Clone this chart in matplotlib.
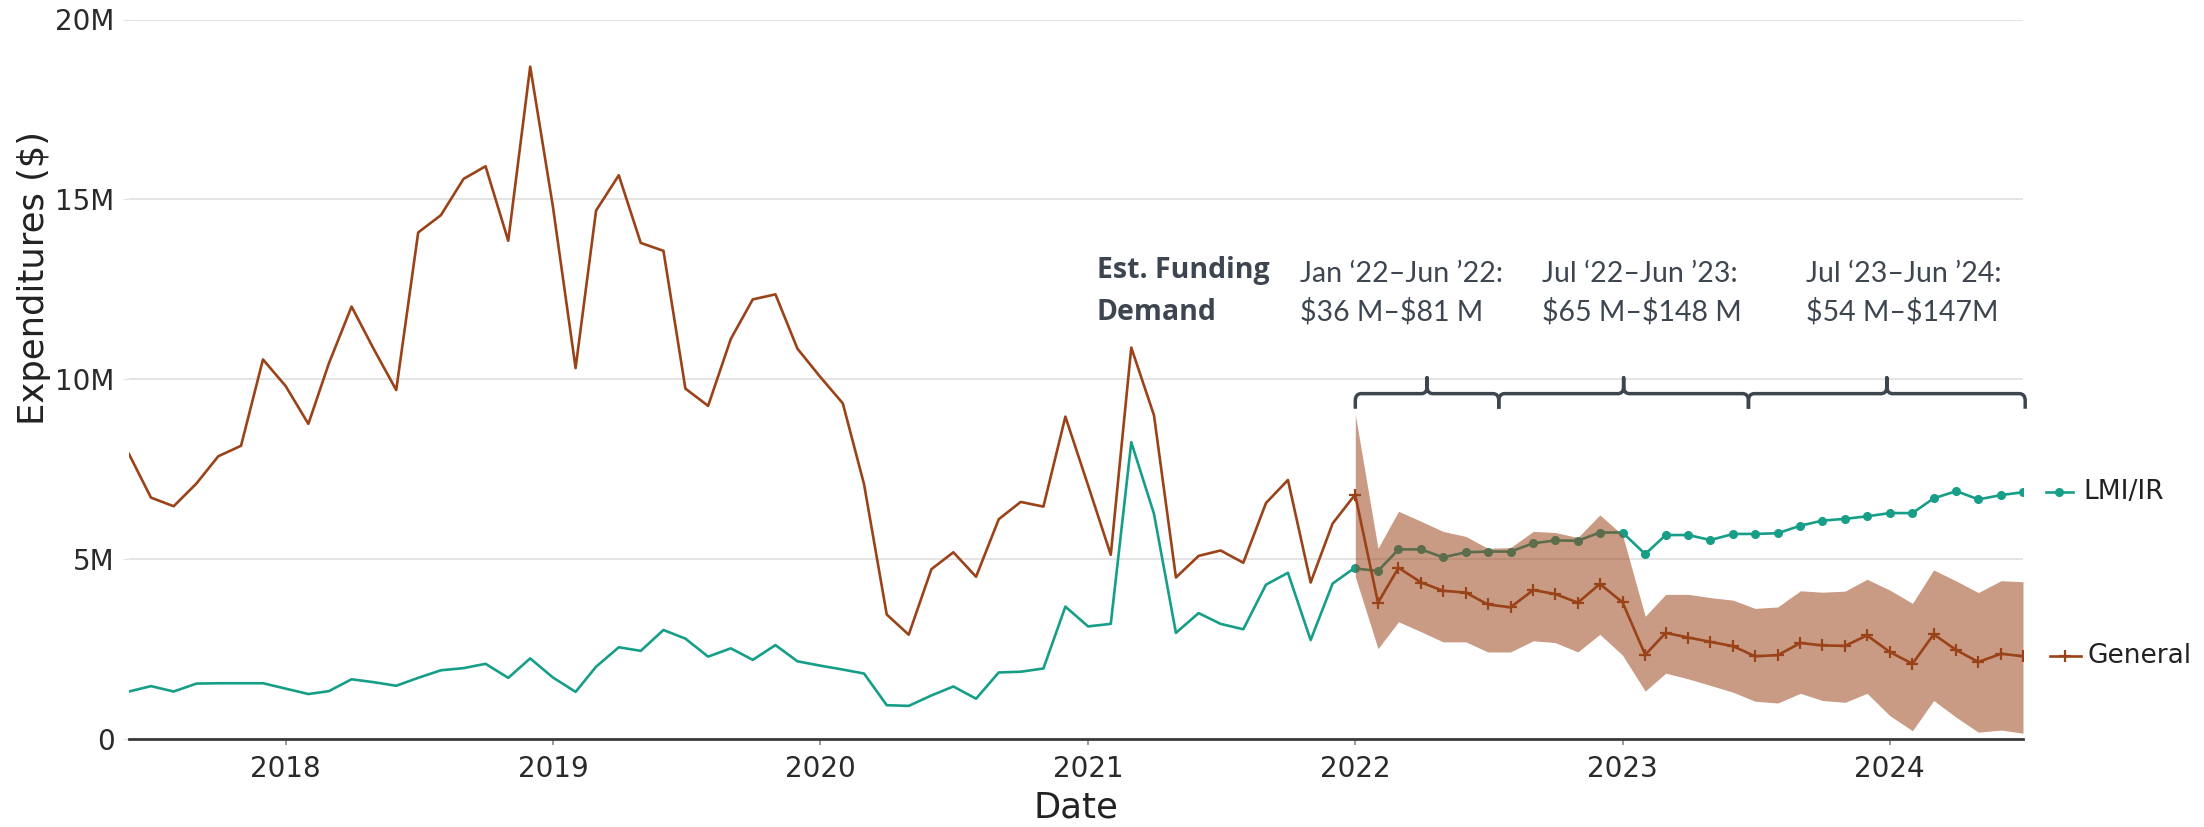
import numpy as np
import pandas as pd
import matplotlib.pyplot as plt
import matplotlib.dates as mdates
import matplotlib.transforms as mtransforms
from matplotlib.path import Path
from matplotlib.patches import PathPatch
from matplotlib.ticker import FuncFormatter

# historical monthly expenditures, Jun 2017 - Jan 2022 (millions $)
hist_dates = pd.date_range("2017-06-01", "2022-01-01", freq="MS")
general_hist = [7.92, 6.71, 6.47, 7.10, 7.86, 8.15, 10.55,
                9.81, 8.76, 10.44, 12.02, 10.85, 9.70, 14.08, 14.56, 15.57, 15.92, 13.85, 18.69,
                14.8, 10.31, 14.69, 15.67, 13.79, 13.57, 9.74, 9.26, 11.12, 12.22, 12.36, 10.85,
                10.07, 9.33, 7.08, 3.46, 2.90, 4.72, 5.19, 4.51, 6.11, 6.59, 6.46, 8.96,
                7.05, 5.12, 10.88, 9.00, 4.49, 5.09, 5.24, 4.90, 6.56, 7.20, 4.35, 5.99,
                6.80]
lmi_hist = [1.32, 1.47, 1.32, 1.54, 1.55, 1.55, 1.55,
            1.40, 1.25, 1.33, 1.66, 1.58, 1.48, 1.70, 1.91, 1.97, 2.09, 1.70, 2.24,
            1.71, 1.31, 2.01, 2.55, 2.45, 3.03, 2.79, 2.29, 2.52, 2.20, 2.61, 2.16,
            2.04, 1.93, 1.82, 0.94, 0.92, 1.21, 1.46, 1.12, 1.85, 1.87, 1.96, 3.68,
            3.13, 3.20, 8.25, 6.26, 2.95, 3.50, 3.20, 3.05, 4.29, 4.62, 2.75, 4.32,
            4.77]

# forecast, Jan 2022 - Jul 2024
fc_dates = pd.date_range("2022-01-01", "2024-07-01", freq="MS")
general_fc = [6.77, 3.79, 4.76, 4.35, 4.12, 4.07, 3.74, 3.66, 4.14, 4.03, 3.79, 4.31,
              3.80, 2.34, 2.95, 2.82, 2.70, 2.58, 2.30, 2.33, 2.67, 2.60, 2.59, 2.88,
              2.42, 2.09, 2.91, 2.47, 2.14, 2.37, 2.30]
general_hi = [9.02, 5.30, 6.33, 6.05, 5.77, 5.63, 5.30, 5.32, 5.77, 5.74, 5.60, 6.23,
              5.67, 3.41, 4.02, 4.02, 3.93, 3.86, 3.63, 3.67, 4.12, 4.08, 4.11, 4.44,
              4.14, 3.77, 4.70, 4.39, 4.07, 4.40, 4.37]
general_lo = [4.51, 2.51, 3.26, 2.98, 2.70, 2.70, 2.42, 2.42, 2.73, 2.68, 2.42, 2.91,
              2.33, 1.33, 1.83, 1.67, 1.49, 1.30, 1.05, 1.00, 1.27, 1.07, 1.02, 1.27,
              0.65, 0.23, 1.07, 0.60, 0.19, 0.25, 0.16]
lmi_fc = [4.74, 4.67, 5.27, 5.27, 5.05, 5.19, 5.21, 5.21, 5.44, 5.52, 5.51, 5.74,
          5.74, 5.14, 5.67, 5.67, 5.53, 5.70, 5.70, 5.72, 5.93, 6.07, 6.12, 6.19,
          6.28, 6.28, 6.69, 6.89, 6.66, 6.78, 6.86]

period_titles = ["Jan \u201822\u2013Jun \u201922:", "Jul \u201822\u2013Jun \u201923:", "Jul \u201823\u2013Jun \u201924:"]
period_ranges = ["\\$36 M\u2013\\$81 M", "\\$65 M\u2013\\$148 M", "\\$54 M\u2013\\$147M"]
bracket_edges = ["2022-01-01", "2022-07-16", "2023-06-22", "2024-07-04"]

C_GEN = "#9a4218"
C_LMI = "#169e89"
C_TXT = "#3d4650"
M = 1e6

fig = plt.figure(figsize=(22.04, 8.27), dpi=100)
ax = fig.add_axes([129 / 2204, 1 - 739 / 827, 1894 / 2204, 719.5 / 827])

ax.plot(hist_dates, np.array(lmi_hist) * M, color=C_LMI, lw=1.9, zorder=2)
ax.plot(fc_dates, np.array(lmi_fc) * M, color=C_LMI, lw=1.9, marker="o", ms=5.5, zorder=2)
ax.fill_between(fc_dates, np.array(general_lo) * M, np.array(general_hi) * M,
                color=C_GEN, alpha=0.535, lw=0, zorder=3)
ax.plot(hist_dates, np.array(general_hist) * M, color=C_GEN, lw=1.9, zorder=4)
ax.plot(fc_dates, np.array(general_fc) * M, color=C_GEN, lw=1.9, marker="+", ms=9, mew=1.6, zorder=4)

ax.set_xlim(hist_dates[0], fc_dates[-1])
ax.set_ylim(0, 20 * M)
ax.set_yticks(np.arange(0, 21, 5) * M)
ax.yaxis.set_major_formatter(FuncFormatter(lambda v, p: "0" if v == 0 else f"{v / M:.0f}M"))
ax.xaxis.set_major_locator(mdates.YearLocator())
ax.xaxis.set_major_formatter(mdates.DateFormatter("%Y"))

ax.grid(axis="y", color="#e2e2e2", lw=1.3)
ax.set_axisbelow(True)
for s in ["left", "right", "top"]:
    ax.spines[s].set_visible(False)
ax.spines["bottom"].set_color("#3a3a3a")
ax.spines["bottom"].set_linewidth(2)
ax.tick_params(axis="y", length=4, color="#e2e2e2", pad=6.5, labelsize=20, labelcolor="#2a2a2a")
ax.tick_params(axis="x", length=4.5, width=1.2, color="#888888", pad=7, labelsize=20, labelcolor="#2a2a2a")

ax.set_ylabel("Expenditures ($)", fontsize=25.5, color="#222222")
ax.yaxis.set_label_coords(-0.041, 0.641)
ax.set_xlabel("Date", fontsize=25.5, color="#222222", va="top")
ax.xaxis.set_label_coords(0.5, -0.071)

# end labels for each series
blend = mtransforms.blended_transform_factory(ax.transAxes, ax.transData)
ax.plot([1.0121, 1.0192, 1.0264], [lmi_fc[-1] * M] * 3, transform=blend, clip_on=False,
        color=C_LMI, lw=1.9, marker="o", ms=5.5, markevery=[1])
ax.text(1.0317, lmi_fc[-1] * M, "LMI/IR", transform=blend, fontsize=19, color="#222222", va="center")
ax.plot([1.0142, 1.0224, 1.0306], [general_fc[-1] * M] * 3, transform=blend, clip_on=False,
        color=C_GEN, lw=1.9, marker="+", ms=9, mew=1.6, markevery=[1])
ax.text(1.0338, general_fc[-1] * M, "General", transform=blend, fontsize=19, color="#222222", va="center")

# funding demand annotation
bold_fam = ["Open Sans", "DejaVu Sans"]
ax.text(0.511, 0.641, "Est. Funding", transform=ax.transAxes, family=bold_fam, weight="bold",
        fontsize=20.5, color=C_TXT, va="baseline")
ax.text(0.511, 0.583, "Demand", transform=ax.transAxes, family=bold_fam, weight="bold",
        fontsize=20.5, color=C_TXT, va="baseline")
for x, t1, t2 in zip([0.6183, 0.746, 0.8854], period_titles, period_ranges):
    ax.text(x, 0.635, t1, transform=ax.transAxes, family="Lato", fontsize=20.5, color=C_TXT, va="baseline")
    ax.text(x, 0.582, t2, transform=ax.transAxes, family="Lato", fontsize=20.5, color=C_TXT, va="baseline")

# curly brackets over the forecast periods
y_h, y_lo, y_top = 9.6 * M, 9.18 * M, 10.04 * M
dx, dy = 8, 0.2 * M
edges = mdates.date2num(pd.to_datetime(bracket_edges))
for a, b in zip(edges[:-1], edges[1:]):
    m = (a + b) / 2
    verts = [(a, y_lo), (a, y_h - dy), (a, y_h), (a + dx, y_h),
             (m - dx, y_h), (m, y_h), (m, y_h + dy), (m, y_top),
             (m, y_h + dy), (m, y_h), (m + dx, y_h),
             (b - dx, y_h), (b, y_h), (b, y_h - dy), (b, y_lo)]
    codes = [Path.MOVETO, Path.LINETO, Path.CURVE3, Path.CURVE3,
             Path.LINETO, Path.CURVE3, Path.CURVE3, Path.LINETO,
             Path.LINETO, Path.CURVE3, Path.CURVE3,
             Path.LINETO, Path.CURVE3, Path.CURVE3, Path.LINETO]
    ax.add_patch(PathPatch(Path(verts, codes), fill=False, ec=C_TXT, lw=2.5,
                           capstyle="butt", joinstyle="round", clip_on=False, zorder=5))

fig.savefig("out.png", dpi=100)
